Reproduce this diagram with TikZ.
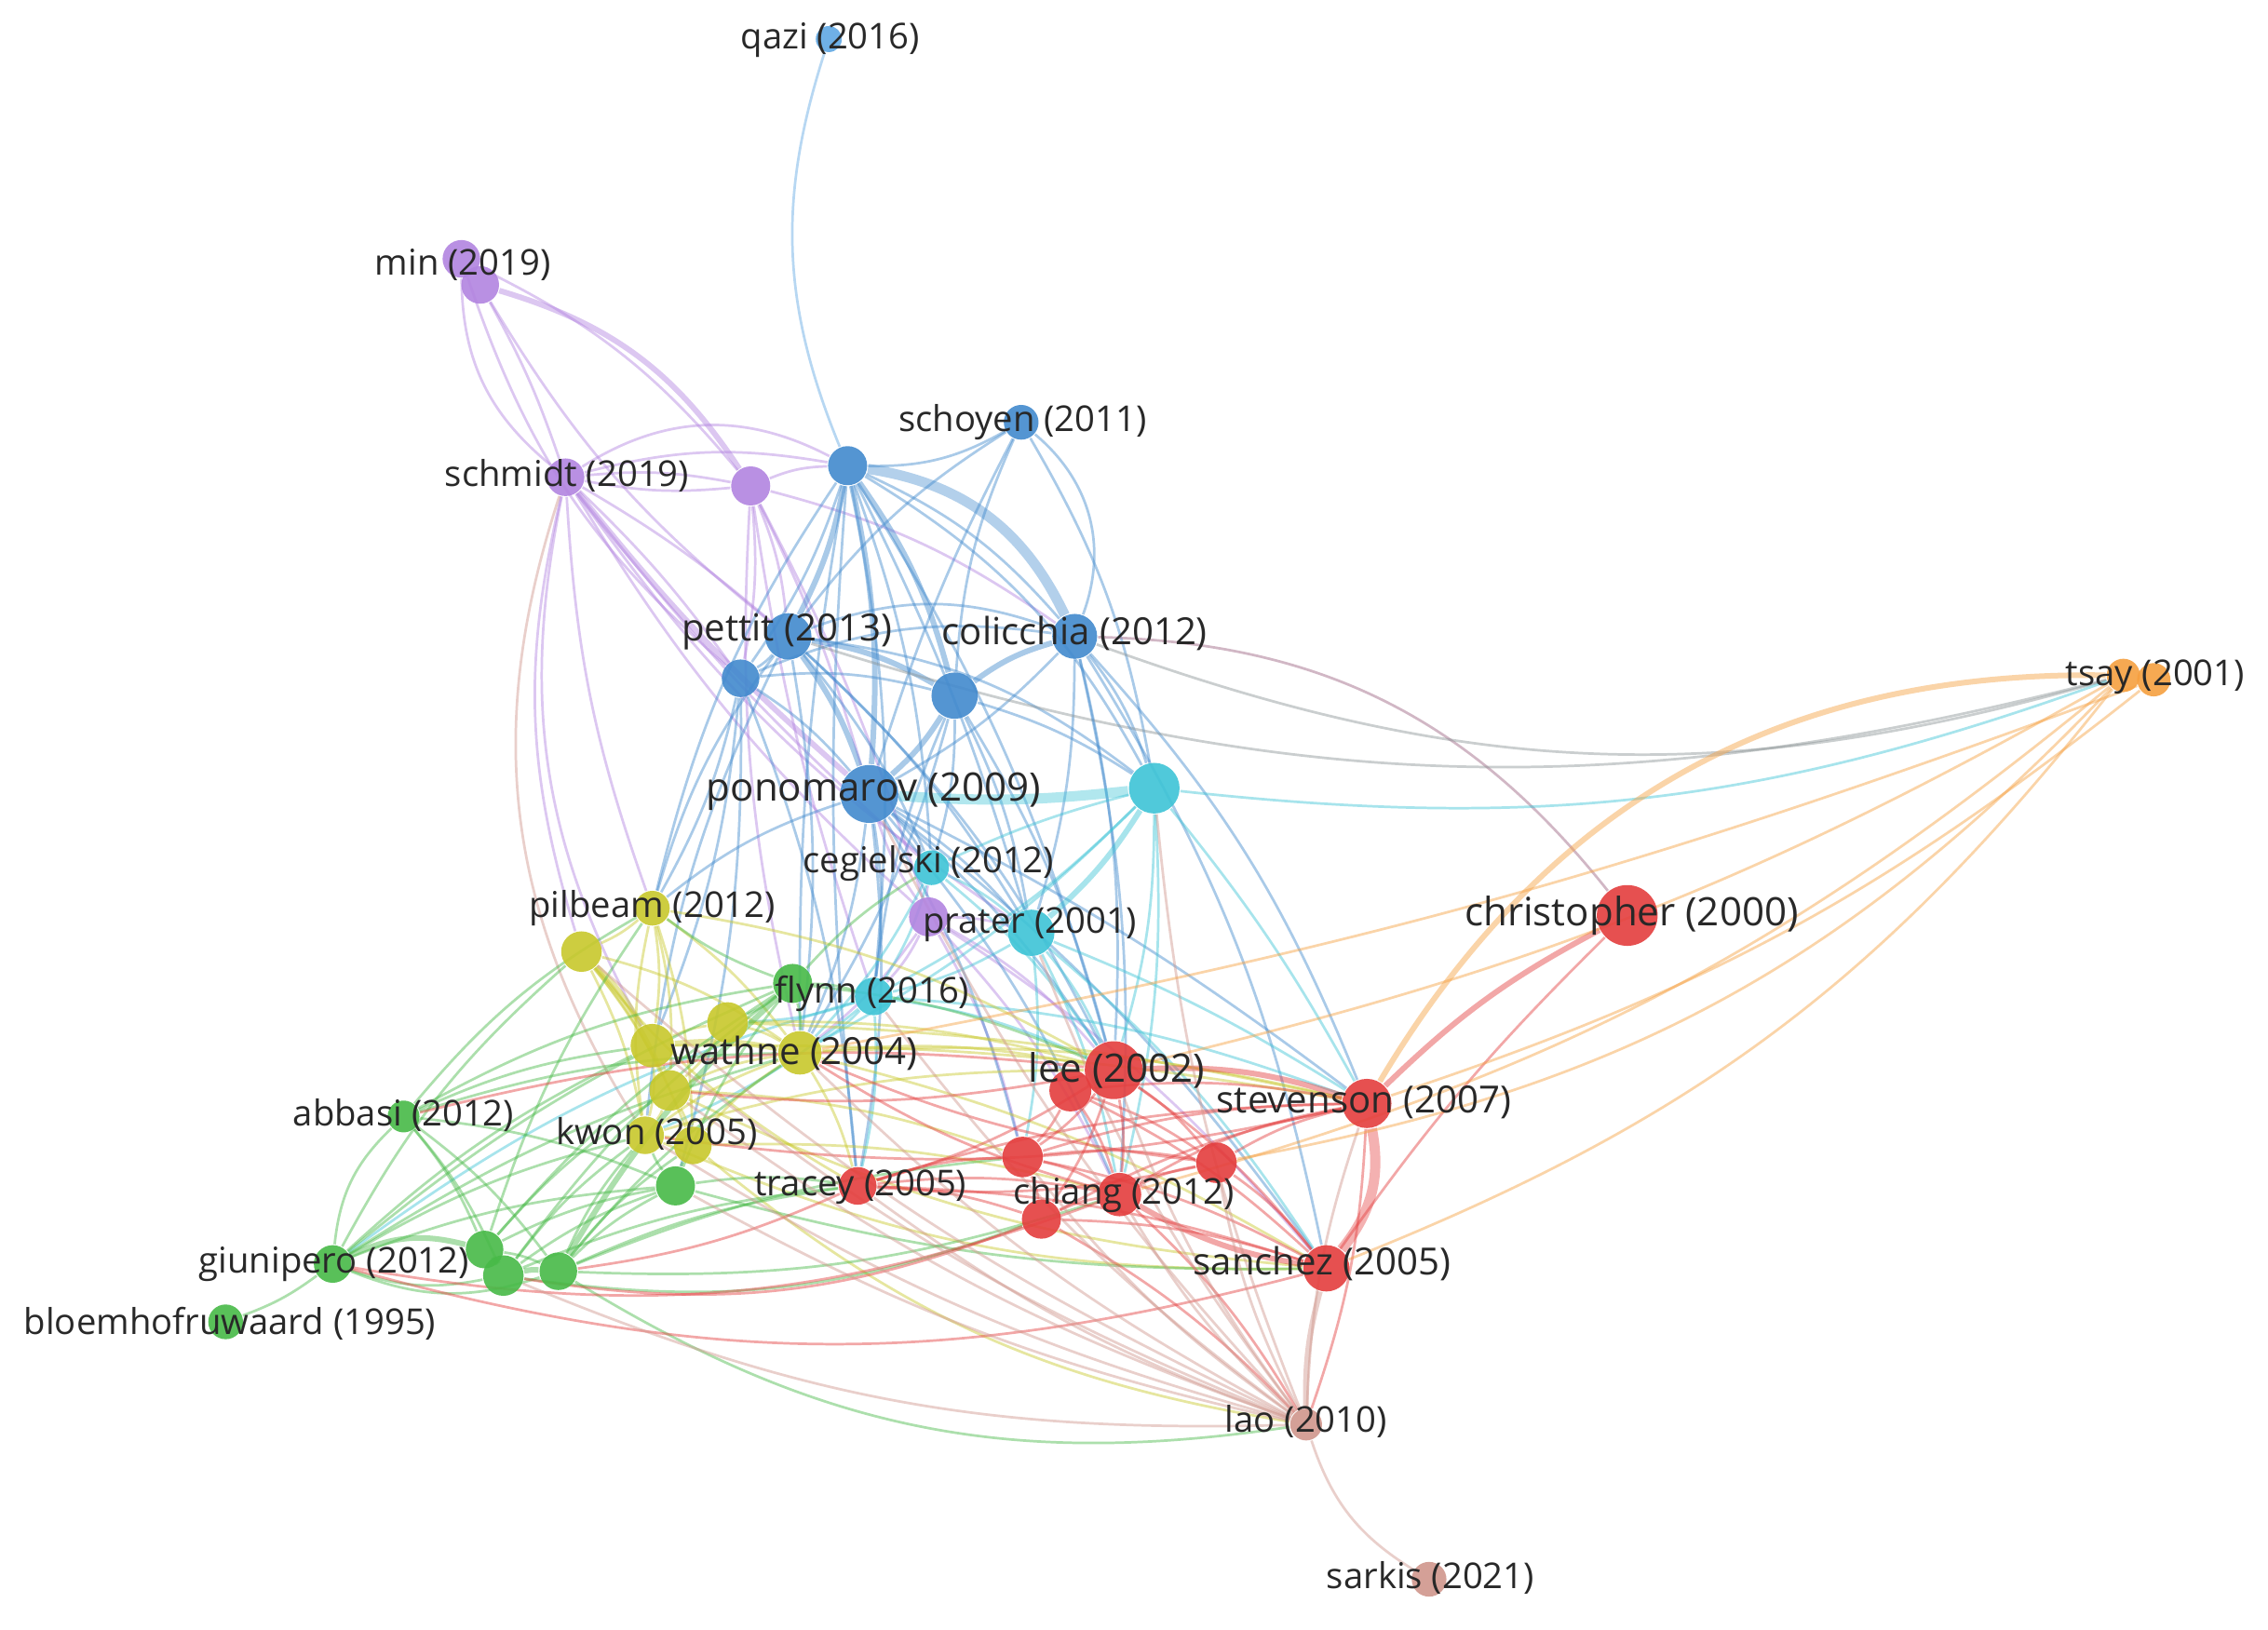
\documentclass[tikz,border=0pt]{standalone}
\usepackage{fontspec}
\setmainfont{Open Sans}
\definecolor{cBlue}{RGB}{66,138,206}
\definecolor{cSky}{RGB}{96,168,228}
\definecolor{cCyan}{RGB}{62,196,214}
\definecolor{cPurple}{RGB}{178,132,224}
\definecolor{cYellow}{RGB}{200,200,44}
\definecolor{cGreen}{RGB}{72,186,72}
\definecolor{cRed}{RGB}{228,62,62}
\definecolor{cOrange}{RGB}{246,160,64}
\definecolor{cBrown}{RGB}{208,150,140}
\definecolor{cText}{RGB}{40,40,40}
\pgfdeclarelayer{edges}
\pgfsetlayers{edges,main}

\begin{document}
\begin{tikzpicture}[x=0.01cm, y=-0.01cm,
ball/.style={circle, inner sep=0pt, minimum size=#1, fill opacity=0.9},
lbl/.style={text=cText, inner sep=0pt, font=\fontsize{7}{8}\selectfont},
lblM/.style={lbl, font=\fontsize{7.35}{8}\selectfont},
lblL/.style={lbl, font=\fontsize{7.7}{9}\selectfont},
lnk/.style={draw=#1, draw opacity=0.45, line width=0.5pt},
thk/.style={line width=1.1pt},
band/.style={line width=2pt, draw opacity=0.4}]
\useasboundingbox (0,0) rectangle (1568,1127);
% blue cluster
\node[ball=0.18cm, fill=cSky] (qazi) at (573,27) {};
\node[ball=0.24cm, fill=cBlue] (schoyen) at (706,292) {};
\node[ball=0.27cm, fill=cBlue] (bA) at (586,322) {};
\node[ball=0.32cm, fill=cBlue] (pettit) at (545,440) {};
\node[ball=0.26cm, fill=cBlue] (bB) at (512,469) {};
\node[ball=0.31cm, fill=cBlue] (colic) at (743,440) {};
\node[ball=0.32cm, fill=cBlue] (bC) at (660,481) {};
\node[ball=0.40cm, fill=cBlue] (pono) at (601,549) {};
% cyan cluster
\node[ball=0.35cm, fill=cCyan] (cA) at (798,545) {};
\node[ball=0.24cm, fill=cCyan] (cegiel) at (644,600) {};
\node[ball=0.32cm, fill=cCyan] (prater) at (713,645) {};
\node[ball=0.26cm, fill=cCyan] (flynn) at (604,689) {};
% purple cluster
\node[ball=0.26cm, fill=cPurple] (minA) at (319,179) {};
\node[ball=0.26cm, fill=cPurple] (minB) at (332,197) {};
\node[ball=0.26cm, fill=cPurple] (schmidt) at (391,330) {};
\node[ball=0.27cm, fill=cPurple] (pA) at (519,336) {};
\node[ball=0.27cm, fill=cPurple] (pB) at (642,634) {};
% yellow cluster
\node[ball=0.24cm, fill=cYellow] (pilbeam) at (451,628) {};
\node[ball=0.28cm, fill=cYellow] (yA) at (402,658) {};
\node[ball=0.30cm, fill=cYellow] (yB) at (451,723) {};
\node[ball=0.28cm, fill=cYellow] (yC) at (503,707) {};
\node[ball=0.30cm, fill=cYellow] (wathne) at (553,728) {};
\node[ball=0.28cm, fill=cYellow] (yD) at (463,754) {};
\node[ball=0.26cm, fill=cYellow] (kwon) at (446,785) {};
\node[ball=0.26cm, fill=cYellow] (yE) at (479,792) {};
% green cluster
\node[ball=0.27cm, fill=cGreen] (gFly) at (548,680) {};
\node[ball=0.22cm, fill=cGreen] (abbasi) at (279,772) {};
\node[ball=0.27cm, fill=cGreen] (gA) at (467,820) {};
\node[ball=0.26cm, fill=cGreen] (giuni) at (230,874) {};
\node[ball=0.26cm, fill=cGreen] (gB) at (335,864) {};
\node[ball=0.28cm, fill=cGreen] (gC) at (348,882) {};
\node[ball=0.26cm, fill=cGreen] (gD) at (386,879) {};
\node[ball=0.24cm, fill=cGreen] (bloem) at (156,914) {};
% red cluster
\node[ball=0.40cm, fill=cRed] (lee) at (770,740) {};
\node[ball=0.29cm, fill=cRed] (rA) at (740,754) {};
\node[ball=0.34cm, fill=cRed] (steven) at (945,763) {};
\node[ball=0.42cm, fill=cRed] (christ) at (1125,633) {};
\node[ball=0.26cm, fill=cRed] (tracey) at (593,820) {};
\node[ball=0.28cm, fill=cRed] (rB) at (707,800) {};
\node[ball=0.27cm, fill=cRed] (rC) at (720,843) {};
\node[ball=0.30cm, fill=cRed] (chiang) at (774,826) {};
\node[ball=0.28cm, fill=cRed] (rD) at (841,804) {};
\node[ball=0.32cm, fill=cRed] (sanchez) at (917,877) {};
% brown and orange
\node[ball=0.22cm, fill=cBrown] (lao) at (903,985) {};
\node[ball=0.24cm, fill=cBrown] (sarkis) at (988,1092) {};
\node[ball=0.23cm, fill=cOrange] (tsay) at (1468,467) {};
\node[ball=0.23cm, fill=cOrange] (tsayB) at (1489,470) {};

% labels
\node[lbl] (lqazi) at (574,28) {qazi (2016)};
\node[lbl] (lmin) at (320,183) {min (2019)};
\node[lbl] (lschoyen) at (707,292) {schoyen (2011)};
\node[lbl] (lschmidt) at (392,329) {schmidt (2019)};
\node[lblM] (lpettit) at (544,437) {pettit (2013)};
\node[lblM] (lcolic) at (743,438) {colicchia (2012)};
\node[lbl] (ltsay) at (1490,468) {tsay (2001)};
\node[lblL] (lpono) at (604,547) {ponomarov (2009)};
\node[lbl] (lcegiel) at (642,597) {cegielski (2012)};
\node[lbl] (lpilbeam) at (451,628) {pilbeam (2012)};
\node[lblL] (lchrist) at (1128,633) {christopher (2000)};
\node[lbl] (lprater) at (712,639) {prater (2001)};
\node[lbl] (lflynn) at (603,687) {flynn (2016)};
\node[lblM] (lwathne) at (549,728) {wathne (2004)};
\node[lblL] (llee) at (772,740) {lee (2002)};
\node[lblM] (lsteven) at (943,762) {stevenson (2007)};
\node[lbl] (labbasi) at (279,771) {abbasi (2012)};
\node[lbl] (lkwon) at (454,784) {kwon (2005)};
\node[lbl] (ltracey) at (595,821) {tracey (2005)};
\node[lbl] (lchiang) at (777,826) {chiang (2012)};
\node[lbl] (lgiuni) at (231,874) {giunipero (2012)};
\node[lblM] (lsanchez) at (914,874) {sanchez (2005)};
\node[lbl] (lbloem) at (159,915) {bloemhofruwaard (1995)};
\node[lbl] (llao) at (903,983) {lao (2010)};
\node[lbl] (lsarkis) at (989,1091) {sarkis (2021)};

\begin{pgfonlayer}{edges}
\fill[white] (0,0) rectangle (1568,1127);
\begin{scope}[every to/.style={bend left=8}]
% purple links
\draw[lnk=cPurple] (minA) to[bend right=25] (schmidt);
\draw[lnk=cPurple] (minB) to[bend left=5] (schmidt);
\draw[lnk=cPurple, thk] (minB) to[bend left=20] (pA);
\draw[lnk=cPurple] (minA) to[bend left=12] (pA);
\draw[lnk=cPurple] (minB) to[bend right=10] (pettit);
\draw[lnk=cPurple] (minA) to[bend right=15] (bB);
\draw[lnk=cPurple] (schmidt) to[bend left=30] (bA);
\draw[lnk=cPurple] (schmidt) to[bend left=12] (bA);
\draw[lnk=cPurple] (schmidt) to (pA);
\draw[lnk=cPurple] (schmidt) to[bend right=8] (pA);
\draw[lnk=cPurple] (schmidt) to[bend left=5] (pettit);
\draw[lnk=cPurple] (schmidt) to[bend left=5] (bB);
\draw[lnk=cPurple, thk] (schmidt) to[bend right=5] (pono);
\draw[lnk=cPurple] (schmidt) to[bend right=8] (pB);
\draw[lnk=cPurple] (schmidt) to[bend right=5] (cegiel);
\draw[lnk=cPurple] (schmidt) to[bend right=10] (prater);
\draw[lnk=cPurple] (schmidt) to[bend right=15] (yA);
\draw[lnk=cPurple] (schmidt) to[bend right=8] (pilbeam);
\draw[lnk=cPurple] (schmidt) to[bend right=20] (yB);
\draw[lnk=cBrown] (schmidt) to[bend right=25] (kwon);
\draw[lnk=cPurple] (pA) to[bend left=10] (bA);
\draw[lnk=cPurple] (pA) to (pettit);
\draw[lnk=cPurple] (pA) to (bB);
\draw[lnk=cPurple] (pA) to[bend left=5] (pono);
\draw[lnk=cPurple] (pA) to[bend left=5] (pB);
\draw[lnk=cPurple] (pA) to[bend left=10] (colic);
\draw[lnk=cPurple] (pA) to[bend right=5] (flynn);
\draw[lnk=cPurple] (pA) to[bend right=8] (wathne);
\draw[lnk=cPurple] (pB) to (pono);
\draw[lnk=cPurple] (pB) to (cegiel);
\draw[lnk=cPurple] (pB) to (prater);
\draw[lnk=cPurple] (pB) to (flynn);
\draw[lnk=cPurple] (pB) to[bend left=10] (lee);
\draw[lnk=cPurple] (pB) to (wathne);
\draw[lnk=cPurple] (pB) to (chiang);
\draw[lnk=cPurple] (pB) to (rB);
\draw[lnk=cPurple] (pB) to (sanchez);
% blue links
\draw[lnk=cSky] (qazi) to[bend right=20] (bA);
\draw[lnk=cBlue] (schoyen) to[bend left=35] (colic);
\draw[lnk=cBlue] (bA) to[bend right=15] (schoyen);
\draw[lnk=cBlue] (schoyen) to[bend right=10] (bC);
\draw[lnk=cBlue] (schoyen) to[bend right=10] (pettit);
\draw[lnk=cBlue] (schoyen) to[bend right=5] (pono);
\draw[lnk=cBlue] (schoyen) to[bend left=10] (cA);
\draw[lnk=cBlue, band] (bA) to[bend left=28] (colic);
\draw[lnk=cBlue] (bA) to[bend left=12] (colic);
\draw[lnk=cBlue, thk] (bA) to (pettit);
\draw[lnk=cBlue] (bA) to (bB);
\draw[lnk=cBlue, thk] (bA) to[bend left=10] (bC);
\draw[lnk=cBlue, thk] (bA) to (pono);
\draw[lnk=cBlue] (bA) to[bend left=15] (cA);
\draw[lnk=cBlue] (bA) to (cegiel);
\draw[lnk=cBlue] (bA) to[bend left=5] (prater);
\draw[lnk=cBlue] (bA) to[bend right=10] (pilbeam);
\draw[lnk=cBlue] (bA) to[bend right=5] (wathne);
\draw[lnk=cBlue] (bA) to (lee);
\draw[lnk=cBlue] (bA) to (flynn);
\draw[lnk=cBlue] (bA) to[bend right=5] (tracey);
\draw[lnk=cBlue] (pettit) to (bB);
\draw[lnk=cBlue, thk] (pettit) to[bend left=10] (bC);
\draw[lnk=cBlue, thk] (pettit) to (pono);
\draw[lnk=cBlue] (pettit) to[bend left=20] (colic);
\draw[lnk=cBlue] (pettit) to[bend left=15] (cA);
\draw[lnk=cBlue] (pettit) to (cegiel);
\draw[lnk=cBlue] (pettit) to (prater);
\draw[lnk=cBlue] (pettit) to[bend left=10] (lee);
\draw[lnk=cBlue] (pettit) to[bend right=10] (pilbeam);
\draw[lnk=cBlue] (pettit) to (wathne);
\draw[lnk=cBlue] (pettit) to[bend right=10] (kwon);
\draw[lnk=cBlue] (bB) to (pono);
\draw[lnk=cBlue] (bB) to[bend left=10] (bC);
\draw[lnk=cBlue] (bB) to (pilbeam);
\draw[lnk=cBlue] (bB) to (yB);
\draw[lnk=cBlue] (bB) to (gA);
\draw[lnk=cBlue] (bB) to (tracey);
\draw[lnk=cBlue] (bB) to[bend left=15] (colic);
\draw[lnk=cBlue, thk] (colic) to[bend right=10] (bC);
\draw[lnk=cBlue] (colic) to (pono);
\draw[lnk=cBlue] (colic) to[bend left=10] (cA);
\draw[lnk=cBlue] (colic) to (prater);
\draw[lnk=cBlue] (colic) to (lee);
\draw[lnk=cBlue] (colic) to[bend left=10] (steven);
\draw[lnk=cRed!55!cBlue] (colic) to[bend left=25] (christ);
\draw[lnk=cBlue!60!cOrange] (tsay) to[bend left=18] (colic);
\draw[lnk=cBlue!60!cOrange] (tsay) to[bend left=16] (pettit);
\draw[lnk=cBlue] (colic) to (chiang);
\draw[lnk=cBlue] (colic) to[bend left=10] (sanchez);
\draw[lnk=cBlue, thk] (bC) to (pono);
\draw[lnk=cBlue] (bC) to (cA);
\draw[lnk=cBlue] (bC) to (cegiel);
\draw[lnk=cBlue] (bC) to (prater);
\draw[lnk=cBlue] (bC) to (lee);
\draw[lnk=cBlue] (bC) to (wathne);
\draw[lnk=cBlue] (bC) to[bend right=8] (flynn);
\draw[lnk=cBlue] (pono) to (cegiel);
\draw[lnk=cBlue] (pono) to (prater);
\draw[lnk=cBlue] (pono) to (flynn);
\draw[lnk=cBlue] (pono) to (lee);
\draw[lnk=cBlue] (pono) to (wathne);
\draw[lnk=cBlue] (pono) to[bend right=10] (pilbeam);
\draw[lnk=cBlue] (pono) to (tracey);
\draw[lnk=cBlue] (pono) to[bend left=5] (steven);
\draw[lnk=cBlue] (pono) to (chiang);
\draw[lnk=cBlue] (pono) to (rB);
\draw[lnk=cBlue] (pono) to (sanchez);
% cyan links
\draw[lnk=cCyan, band] (cA) to[bend left=5] (pono);
\draw[lnk=cCyan] (cA) to[bend right=5] (cegiel);
\draw[lnk=cCyan, thk] (cA) to (prater);
\draw[lnk=cCyan] (cA) to (flynn);
\draw[lnk=cCyan] (cA) to (lee);
\draw[lnk=cCyan] (cA) to[bend left=5] (steven);
\draw[lnk=cCyan] (tsay) to[bend left=13] (cA);
\draw[lnk=cCyan] (cA) to (chiang);
\draw[lnk=cCyan] (cA) to (wathne);
\draw[lnk=cCyan] (cegiel) to (prater);
\draw[lnk=cCyan] (cegiel) to (flynn);
\draw[lnk=cCyan] (cegiel) to (wathne);
\draw[lnk=cCyan] (cegiel) to (lee);
\draw[lnk=cCyan] (prater) to (flynn);
\draw[lnk=cCyan] (prater) to (lee);
\draw[lnk=cCyan] (prater) to[bend left=5] (steven);
\draw[lnk=cCyan] (prater) to (chiang);
\draw[lnk=cCyan] (prater) to (sanchez);
\draw[lnk=cCyan] (prater) to (rB);
\draw[lnk=cCyan] (flynn) to (wathne);
\draw[lnk=cCyan] (flynn) to (yC);
\draw[lnk=cCyan] (flynn) to (kwon);
\draw[lnk=cCyan] (flynn) to (lee);
\draw[lnk=cCyan] (flynn) to (tracey);
\draw[lnk=cCyan] (flynn) to[bend right=10] (giuni);
\draw[lnk=cCyan] (flynn) to (steven);
% yellow links
\draw[lnk=cYellow] (pilbeam) to (yA);
\draw[lnk=cYellow] (pilbeam) to (yB);
\draw[lnk=cYellow] (pilbeam) to (wathne);
\draw[lnk=cYellow] (pilbeam) to[bend right=10] (kwon);
\draw[lnk=cYellow] (pilbeam) to (yD);
\draw[lnk=cYellow] (pilbeam) to (yE);
\draw[lnk=cYellow] (pilbeam) to[bend left=10] (lee);
\draw[lnk=cYellow, thk] (yA) to (yB);
\draw[lnk=cYellow, thk] (yA) to (yD);
\draw[lnk=cYellow] (yA) to (kwon);
\draw[lnk=cYellow] (yA) to[bend left=10] (wathne);
\draw[lnk=cYellow] (yA) to (yE);
\draw[lnk=cYellow] (yA) to[bend right=10] (tracey);
\draw[lnk=cYellow, thk] (yB) to (wathne);
\draw[lnk=cYellow] (yC) to (wathne);
\draw[lnk=cYellow] (yD) to (wathne);
\draw[lnk=cYellow] (kwon) to (wathne);
\draw[lnk=cYellow] (yE) to (wathne);
\draw[lnk=cYellow] (wathne) to (lee);
\draw[lnk=cYellow] (wathne) to (tracey);
\draw[lnk=cYellow] (wathne) to[bend left=8] (steven);
\draw[lnk=cYellow] (wathne) to (sanchez);
\draw[lnk=cYellow] (yB) to (yC);
\draw[lnk=cYellow] (yB) to (yD);
\draw[lnk=cYellow] (yB) to (kwon);
\draw[lnk=cYellow] (yC) to (yD);
\draw[lnk=cYellow] (yC) to (lee);
\draw[lnk=cYellow] (yD) to (kwon);
\draw[lnk=cYellow] (yD) to (yE);
\draw[lnk=cYellow] (kwon) to (yE);
\draw[lnk=cYellow] (kwon) to (lee);
\draw[lnk=cYellow] (yE) to (chiang);
\draw[lnk=cYellow] (yD) to[bend right=10] (sanchez);
\draw[lnk=cYellow] (yB) to[bend left=5] (steven);
\draw[lnk=cYellow] (yE) to[bend right=15] (lao);
\draw[lnk=cYellow] (yC) to[bend left=5] (steven);
\draw[lnk=cYellow] (yD) to (rB);
\draw[lnk=cYellow] (kwon) to[bend right=12] (sanchez);
% green links
\draw[lnk=cGreen] (abbasi) to[bend right=20] (giuni);
\draw[lnk=cGreen] (abbasi) to (gB);
\draw[lnk=cGreen] (abbasi) to (gC);
\draw[lnk=cGreen] (abbasi) to (gD);
\draw[lnk=cGreen] (abbasi) to (gA);
\draw[lnk=cGreen] (abbasi) to (yB);
\draw[lnk=cGreen] (abbasi) to (wathne);
\draw[lnk=cGreen] (abbasi) to[bend left=10] (gFly);
\draw[lnk=cGreen] (abbasi) to[bend left=10] (pilbeam);
\draw[lnk=cGreen] (giuni) to (bloem);
\draw[lnk=cGreen, thk] (giuni) to[bend left=20] (gB);
\draw[lnk=cGreen] (giuni) to[bend right=15] (gC);
\draw[lnk=cGreen] (giuni) to[bend right=20] (gD);
\draw[lnk=cGreen] (giuni) to (gA);
\draw[lnk=cGreen] (giuni) to (kwon);
\draw[lnk=cGreen] (giuni) to[bend left=8] (gFly);
\draw[lnk=cGreen] (giuni) to (wathne);
\draw[lnk=cGreen] (giuni) to (yB);
\draw[lnk=cGreen] (giuni) to[bend left=10] (yA);
\draw[lnk=cGreen, thk] (gB) to (gC);
\draw[lnk=cGreen] (gB) to (gD);
\draw[lnk=cGreen] (gB) to (gA);
\draw[lnk=cGreen] (gB) to (gFly);
\draw[lnk=cGreen] (gB) to (pilbeam);
\draw[lnk=cGreen] (gB) to (yD);
\draw[lnk=cGreen, thk] (gC) to (gD);
\draw[lnk=cGreen] (gC) to (gA);
\draw[lnk=cGreen] (gC) to (gFly);
\draw[lnk=cGreen] (gC) to (kwon);
\draw[lnk=cGreen] (gC) to (tracey);
\draw[lnk=cGreen] (gD) to (gA);
\draw[lnk=cGreen, thk] (gD) to (gFly);
\draw[lnk=cGreen] (gD) to (wathne);
\draw[lnk=cGreen] (gD) to (kwon);
\draw[lnk=cGreen] (gD) to (yE);
\draw[lnk=cGreen] (gD) to (tracey);
\draw[lnk=cGreen] (gD) to (rB);
\draw[lnk=cGreen] (gD) to[bend right=20] (lao);
\draw[lnk=cGreen] (gD) to[bend right=10] (chiang);
\draw[lnk=cGreen] (gC) to[bend right=14] (rC);
\draw[lnk=cGreen] (gA) to (gFly);
\draw[lnk=cGreen] (gA) to (kwon);
\draw[lnk=cGreen] (gA) to (yE);
\draw[lnk=cGreen] (gA) to (tracey);
\draw[lnk=cGreen] (gA) to[bend right=8] (sanchez);
\draw[lnk=cGreen] (gFly) to (flynn);
\draw[lnk=cGreen] (gFly) to (wathne);
\draw[lnk=cGreen] (gFly) to (yC);
\draw[lnk=cGreen] (gFly) to (pilbeam);
\draw[lnk=cGreen] (gFly) to (cegiel);
\draw[lnk=cGreen] (gFly) to (lee);
% red links
\draw[lnk=cRed, thk] (lee) to (rA);
\draw[lnk=cRed, thk] (lee) to[bend left=10] (steven);
\draw[lnk=cRed] (lee) to (chiang);
\draw[lnk=cRed] (lee) to (rB);
\draw[lnk=cRed] (lee) to (rC);
\draw[lnk=cRed] (lee) to (rD);
\draw[lnk=cRed] (lee) to (sanchez);
\draw[lnk=cRed] (lee) to (tracey);
\draw[lnk=cRed] (lee) to (yD);
\draw[lnk=cRed] (rA) to (steven);
\draw[lnk=cRed] (rA) to (rB);
\draw[lnk=cRed] (rA) to (chiang);
\draw[lnk=cRed] (rA) to (rD);
\draw[lnk=cRed] (rA) to (sanchez);
\draw[lnk=cRed, thk] (steven) to (christ);
\draw[lnk=cRed] (chiang) to[bend left=10] (steven);
\draw[lnk=cRed] (rD) to (steven);
\draw[lnk=cRed, band] (steven) to[bend left=25] (sanchez);
\draw[lnk=cRed] (rB) to (steven);
\draw[lnk=cRed] (rC) to (steven);
\draw[lnk=cRed] (tracey) to (steven);
\draw[lnk=cRed] (steven) to (lao);
\draw[lnk=cRed] (steven) to[bend left=10] (kwon);
\draw[lnk=cRed] (christ) to[bend right=5] (sanchez);
\draw[lnk=cRed] (tracey) to (rB);
\draw[lnk=cRed] (tracey) to (rC);
\draw[lnk=cRed] (tracey) to (chiang);
\draw[lnk=cRed] (tracey) to (sanchez);
\draw[lnk=cRed] (rB) to (rC);
\draw[lnk=cRed] (rB) to (chiang);
\draw[lnk=cRed] (rB) to (rD);
\draw[lnk=cRed] (rB) to (sanchez);
\draw[lnk=cRed] (rC) to (chiang);
\draw[lnk=cRed] (rC) to (sanchez);
\draw[lnk=cRed] (rC) to (lao);
\draw[lnk=cRed] (chiang) to (rD);
\draw[lnk=cRed, thk] (chiang) to[bend right=10] (sanchez);
\draw[lnk=cRed] (chiang) to (lao);
\draw[lnk=cRed] (chiang) to (wathne);
\draw[lnk=cRed] (rD) to (sanchez);
\draw[lnk=cRed] (rD) to (tracey);
\draw[lnk=cRed] (rD) to (wathne);
\draw[lnk=cRed] (sanchez) to[bend left=15] (giuni);
\draw[lnk=cRed] (chiang) to[bend left=15] (giuni);
\draw[lnk=cRed] (tracey) to (gD);
\draw[lnk=cRed] (lee) to[bend right=10] (abbasi);
\draw[lnk=cRed] (rC) to[bend left=15] (gC);
% brown links
\draw[lnk=cBrown] (lao) to[bend right=20] (sarkis);
\draw[lnk=cBrown] (lao) to (steven);
\draw[lnk=cBrown, thk] (lao) to (sanchez);
\draw[lnk=cBrown] (lao) to (chiang);
\draw[lnk=cBrown] (lao) to (tracey);
\draw[lnk=cBrown] (lao) to (wathne);
\draw[lnk=cBrown] (lao) to (kwon);
\draw[lnk=cBrown] (lao) to (yA);
\draw[lnk=cBrown] (lao) to (pono);
\draw[lnk=cBrown] (lao) to (lee);
\draw[lnk=cBrown] (lao) to (rD);
\draw[lnk=cBrown] (lao) to (gA);
\draw[lnk=cBrown] (lao) to (yD);
\draw[lnk=cBrown] (lao) to (rB);
\draw[lnk=cBrown] (lao) to (flynn);
\draw[lnk=cBrown] (lao) to (prater);
\draw[lnk=cBrown] (lao) to (cA);
\draw[lnk=cBrown] (lao) to (yB);
\draw[lnk=cBrown] (lao) to[bend left=12] (gC);
% orange links
\draw[lnk=cOrange, thk] (tsay) to[bend right=30] (steven);
\draw[lnk=cOrange] (tsayB) to[bend left=10] (steven);
\draw[lnk=cOrange] (tsay) to[bend left=15] (sanchez);
\draw[lnk=cOrange] (tsay) to (lee);
\draw[lnk=cOrange] (tsay) to[bend left=12] (chiang);
\draw[lnk=cOrange] (tsayB) to[bend left=5] (wathne);
\draw[lnk=cOrange] (tsay) to[bend left=18] (rD);
\end{scope}
\end{pgfonlayer}
\end{tikzpicture}
\end{document}
